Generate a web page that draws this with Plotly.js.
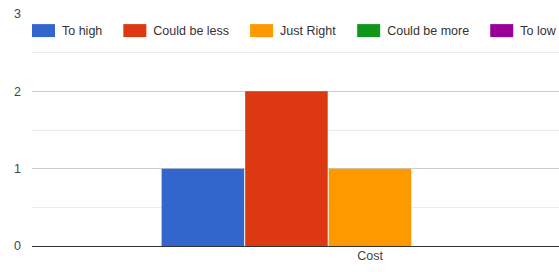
<!DOCTYPE html>
<html>
<head>
<meta charset="utf-8">
<script src="https://cdn.plot.ly/plotly-3.0.1.min.js"></script>
<style>html,body{margin:0;padding:0;background:#fff;}#chart{width:559px;height:272px;}</style>
</head>
<body>
<div id="chart"></div>
<script>
const categories = ["Cost"];
const seriesNames = ["To high", "Could be less", "Just Right", "Could be more", "To low"];
const toHigh = [1];
const couldBeLess = [2];
const justRight = [1];
const couldBeMore = [0];
const toLow = [0];
const colors = ["#3366cc", "#dc3912", "#ff9900", "#109618", "#990099"];
const yTicks = [0, 1, 2, 3];

const values = [toHigh, couldBeLess, justRight, couldBeMore, toLow];
const traces = values.map((v, i) => ({
  type: 'bar',
  name: seriesNames[i],
  x: categories,
  y: v,
  marker: {color: colors[i]},
  hoverinfo: 'none'
}));

const layout = {
  width: 559, height: 272,
  margin: {l: 32, r: 0, t: 14, b: 26, pad: 0, autoexpand: false},
  paper_bgcolor: '#fff', plot_bgcolor: '#fff',
  font: {family: 'Arial, "Liberation Sans", sans-serif', size: 12, color: '#444'},
  barmode: 'group',
  bargap: 0.382,
  bargroupgap: 0.012,
  showlegend: true,
  legend: {
    orientation: 'h', x: -0.0342, xanchor: 'left', y: 1.0001, yanchor: 'top',
    itemwidth: 36,
    borderwidth: 2, bordercolor: 'rgba(0,0,0,0)',
    bgcolor: 'rgba(0,0,0,0)', font: {size: 12.5, color: '#333'},
    itemclick: false, itemdoubleclick: false
  },
  xaxis: {
    type: 'category',
    range: [-0.5, 0.2796],
    showgrid: false, zeroline: false, showline: false,
    ticks: '', tickfont: {size: 12.5, color: '#444'},
    fixedrange: true
  },
  yaxis: {
    range: [0, 3],
    tickvals: yTicks,
    ticktext: yTicks.map(String),
    showgrid: true, gridcolor: '#cccccc', gridwidth: 1,
    minor: {dtick: 0.5, showgrid: true, gridcolor: '#ebebeb', gridwidth: 1},
    zeroline: true, zerolinecolor: '#333333', zerolinewidth: 1,
    showline: false, ticks: '',
    ticklabelstandoff: 10,
    tickfont: {size: 12.5, color: '#444'},
    fixedrange: true
  }
};

Plotly.newPlot('chart', traces, layout, {displayModeBar: false, staticPlot: true}).then(() => {
  // widen legend swatches to the rectangular keys of the reference
  document.querySelectorAll('#chart .legendpoints path').forEach(p => {
    p.setAttribute('d', 'M-7,-6.5H16V6.5H-7Z');
  });
});
</script>
</body>
</html>
